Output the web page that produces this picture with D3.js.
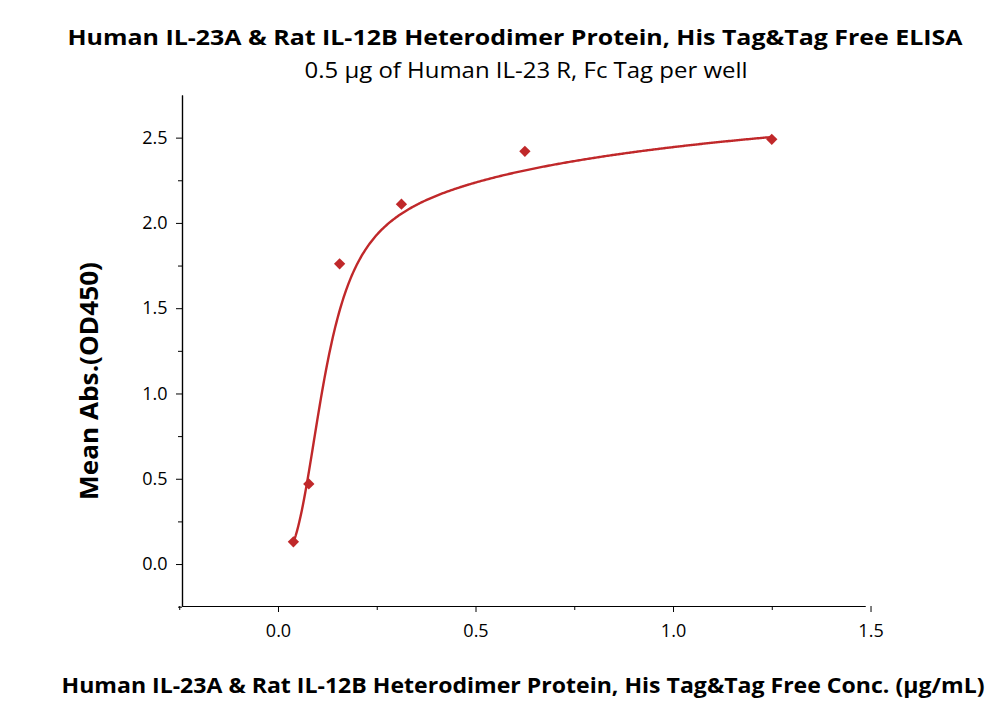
<!DOCTYPE html>
<html><head><meta charset="utf-8">
<script src="https://cdn.jsdelivr.net/npm/d3@7"></script>
<style>body{margin:0;background:#fff}text{font-family:"Open Sans","Noto Sans",sans-serif}</style>
</head><body><svg id="c" width="1000" height="714"></svg>
<script>
const concs=[0.039,0.078,0.156,0.3125,0.625,1.25];
const absVals=[0.13,0.47,1.76,2.11,2.42,2.49];
const xTicks=[0,0.5,1.0,1.5];
const yTicks=[0,0.5,1.0,1.5,2.0,2.5];
const fit={A:1.8,k:0.115,h:3,M:1.1,q:0.7};
const svg=d3.select("#c");
const x=d3.scaleLinear().domain([-0.243,1.486]).range([182,865]);
const y=d3.scaleLinear().domain([-0.246,2.75]).range([606,95]);
const red="#c0282a";
svg.append("g").attr("transform","translate(0,606)")
 .call(d3.axisBottom(x).tickValues(xTicks).tickFormat(d3.format(".1f")).tickSize(6).tickSizeOuter(0))
 .call(g=>g.selectAll("text").attr("font-size",18).attr("dy","1.2em"));
svg.append("g").attr("transform","translate(0,606)")
 .call(d3.axisBottom(x).tickValues(d3.range(-0.25,1.5,0.25).filter(v=>!xTicks.some(t=>Math.abs(t-v)<1e-6))).tickFormat("").tickSize(4).tickSizeOuter(0));
svg.append("g").attr("transform","translate(182,0)")
 .call(d3.axisLeft(y).tickValues(yTicks).tickFormat(d3.format(".1f")).tickSize(6).tickSizeOuter(0))
 .call(g=>g.selectAll("text").attr("font-size",18).attr("dx","-0.3em"));
svg.append("g").attr("transform","translate(182,0)")
 .call(d3.axisLeft(y).tickValues(d3.range(-0.25,2.75,0.25).filter(v=>!yTicks.some(t=>Math.abs(t-v)<1e-6))).tickFormat("").tickSize(4).tickSizeOuter(0));
svg.selectAll(".domain").attr("stroke","#000").attr("stroke-width",1.2);
const f=c=>fit.A/(1+Math.pow(fit.k/c,fit.h))+fit.M*c/(fit.q+c);
const cs=d3.range(0,401).map(i=>0.039+(1.25-0.039)*i/400);
svg.append("path").datum(cs).attr("fill","none").attr("stroke",red).attr("stroke-width",2.4)
 .attr("d",d3.line().x(c=>x(c)).y(c=>y(f(c))));
svg.selectAll(".pt").data(concs).enter().append("path").attr("class","pt")
 .attr("d",d3.symbol(d3.symbolSquare,64)).attr("fill",red)
 .attr("transform",(c,i)=>`translate(${x(c)},${y(absVals[i])}) rotate(45)`);
const t=(xx,yy,s,w,txt,fs)=>svg.append("text").attr("x",xx).attr("y",yy).attr("text-anchor","middle").attr("font-size",fs).attr("font-weight",w).attr("textLength",s).attr("lengthAdjust","spacingAndGlyphs").text(txt);
t(515,45,895,"bold","Human IL-23A & Rat IL-12B Heterodimer Protein, His Tag&Tag Free ELISA",22);
t(526,78,443,"normal","0.5 μg of Human IL-23 R, Fc Tag per well",21);
t(523,693,923,"bold","Human IL-23A & Rat IL-12B Heterodimer Protein, His Tag&Tag Free Conc. (μg/mL)",22);
svg.append("text").attr("transform","translate(98,381) rotate(-90)").attr("text-anchor","middle").attr("font-size",25).attr("font-weight","bold").attr("textLength",238).attr("lengthAdjust","spacingAndGlyphs").text("Mean Abs.(OD450)");
</script></body></html>
